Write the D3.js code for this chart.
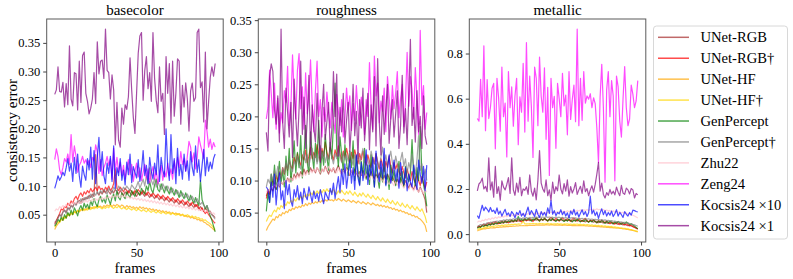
<!DOCTYPE html>
<html>
<head>
<meta charset="utf-8">
<script src="https://cdn.jsdelivr.net/npm/d3@7"></script>
<style>
  body { margin: 0; background: #fff; }
  svg { font-family: "Liberation Serif", "DejaVu Serif", serif; }
  .tick text { font-size: 12.5px; fill: #000; }
</style>
</head>
<body>
<svg class="graph" width="793" height="279"></svg>
<script>
// method names, colours of the lines
var methods = ["UNet-RGB", "UNet-RGB\u2020", "UNet-HF", "UNet-HF\u2020", "GenPercept", "GenPercept\u2020", "Zhu22", "Zeng24", "Kocsis24 \u00d710", "Kocsis24 \u00d71"];
var colors = ["#a52a2a", "#ff0000", "#ffa500", "#ffd700", "#008000", "#808080", "#ffc0cb", "#ff00ff", "#0000ff", "#800080"];
var panelTitles = ["basecolor", "roughness", "metallic"];
var xTicks = [0, 50, 100];
var yTicksBase = [0.05, 0.10, 0.15, 0.20, 0.25, 0.30, 0.35];
var yTicksRough = [0.05, 0.10, 0.15, 0.20, 0.25, 0.30, 0.35];
var yTicksMetal = [0.0, 0.2, 0.4, 0.6, 0.8];

// ---- basecolor, frames 0..98 ----
var bcUnetRGB = [0.036,0.040,0.045,0.050,0.048,0.055,0.058,0.054,0.062,0.060,0.066,0.064,0.070,0.068,0.072,0.075,0.070,0.078,0.076,0.080,0.078,0.084,0.080,0.086,0.082,0.155,0.088,0.084,0.090,0.086,0.092,0.088,0.094,0.090,0.086,0.092,0.088,0.094,0.090,0.086,0.092,0.088,0.084,0.090,0.086,0.092,0.088,0.084,0.090,0.086,0.082,0.088,0.084,0.090,0.086,0.082,0.088,0.084,0.080,0.086,0.082,0.078,0.084,0.080,0.076,0.082,0.078,0.074,0.080,0.076,0.072,0.078,0.074,0.070,0.076,0.072,0.068,0.074,0.070,0.066,0.072,0.068,0.064,0.070,0.066,0.062,0.068,0.064,0.060,0.064,0.060,0.056,0.062,0.058,0.054,0.056,0.050,0.048,0.045];
var bcUnetRGBd = [0.034,0.038,0.046,0.052,0.060,0.058,0.064,0.062,0.070,0.066,0.074,0.070,0.078,0.082,0.076,0.084,0.088,0.082,0.090,0.086,0.092,0.088,0.096,0.090,0.094,0.098,0.092,0.100,0.094,0.096,0.090,0.098,0.094,0.100,0.092,0.096,0.104,0.130,0.096,0.092,0.098,0.094,0.090,0.096,0.092,0.088,0.094,0.090,0.086,0.092,0.088,0.094,0.090,0.086,0.092,0.088,0.084,0.090,0.086,0.082,0.088,0.084,0.080,0.086,0.082,0.078,0.084,0.080,0.076,0.082,0.078,0.074,0.080,0.076,0.072,0.078,0.074,0.070,0.076,0.072,0.068,0.074,0.070,0.066,0.072,0.068,0.064,0.068,0.062,0.058,0.062,0.056,0.052,0.056,0.050,0.046,0.042,0.038,0.035];
var bcUnetHF = [0.024,0.030,0.034,0.038,0.042,0.040,0.046,0.044,0.050,0.048,0.052,0.050,0.055,0.053,0.057,0.055,0.059,0.057,0.060,0.058,0.062,0.060,0.063,0.061,0.064,0.062,0.066,0.063,0.065,0.062,0.066,0.064,0.067,0.065,0.068,0.064,0.067,0.065,0.068,0.066,0.064,0.067,0.065,0.062,0.066,0.063,0.065,0.062,0.064,0.061,0.063,0.060,0.064,0.061,0.063,0.060,0.062,0.059,0.061,0.058,0.060,0.057,0.059,0.056,0.058,0.055,0.057,0.054,0.056,0.053,0.055,0.052,0.054,0.051,0.053,0.050,0.052,0.049,0.050,0.047,0.049,0.046,0.047,0.044,0.046,0.043,0.044,0.041,0.042,0.039,0.040,0.037,0.036,0.033,0.032,0.029,0.027,0.024,0.022];
var bcUnetHFd = [0.028,0.034,0.038,0.036,0.042,0.046,0.043,0.048,0.052,0.049,0.054,0.051,0.056,0.053,0.058,0.055,0.059,0.061,0.057,0.060,0.058,0.062,0.059,0.063,0.060,0.064,0.061,0.065,0.062,0.060,0.063,0.061,0.064,0.062,0.066,0.063,0.061,0.064,0.062,0.065,0.062,0.060,0.063,0.061,0.059,0.062,0.060,0.058,0.061,0.059,0.057,0.060,0.058,0.056,0.059,0.057,0.055,0.058,0.056,0.054,0.057,0.055,0.053,0.056,0.054,0.052,0.055,0.053,0.051,0.054,0.052,0.050,0.053,0.051,0.049,0.052,0.050,0.048,0.051,0.049,0.047,0.050,0.048,0.046,0.048,0.045,0.047,0.044,0.045,0.042,0.043,0.040,0.041,0.038,0.036,0.034,0.031,0.028,0.024];
var bcGenPercept = [0.030,0.034,0.042,0.038,0.046,0.040,0.050,0.044,0.054,0.048,0.058,0.050,0.062,0.056,0.048,0.060,0.066,0.058,0.070,0.062,0.068,0.060,0.074,0.066,0.078,0.070,0.064,0.076,0.082,0.072,0.078,0.070,0.084,0.076,0.068,0.080,0.086,0.074,0.092,0.080,0.076,0.088,0.082,0.078,0.090,0.084,0.080,0.092,0.086,0.082,0.094,0.088,0.084,0.096,0.090,0.086,0.100,0.092,0.108,0.094,0.088,0.102,0.112,0.094,0.090,0.104,0.096,0.088,0.100,0.092,0.086,0.098,0.090,0.084,0.094,0.088,0.080,0.092,0.084,0.078,0.088,0.080,0.074,0.084,0.076,0.070,0.080,0.072,0.066,0.110,0.076,0.068,0.060,0.066,0.056,0.048,0.040,0.030,0.020];
var bcGenPerceptd = [0.032,0.038,0.044,0.050,0.046,0.054,0.058,0.052,0.062,0.058,0.066,0.062,0.070,0.066,0.074,0.070,0.078,0.072,0.080,0.076,0.082,0.078,0.086,0.080,0.088,0.084,0.090,0.086,0.092,0.088,0.094,0.090,0.086,0.096,0.092,0.088,0.098,0.094,0.090,0.100,0.096,0.092,0.098,0.094,0.100,0.096,0.092,0.102,0.098,0.094,0.100,0.108,0.096,0.104,0.112,0.100,0.118,0.104,0.132,0.110,0.102,0.114,0.098,0.108,0.100,0.094,0.104,0.098,0.092,0.100,0.094,0.088,0.096,0.090,0.086,0.092,0.086,0.082,0.088,0.084,0.080,0.086,0.080,0.076,0.082,0.076,0.072,0.078,0.072,0.068,0.072,0.066,0.062,0.066,0.058,0.054,0.050,0.046,0.042];
var bcZhu22 = [0.056,0.060,0.058,0.064,0.062,0.066,0.063,0.068,0.065,0.070,0.067,0.071,0.068,0.072,0.069,0.073,0.070,0.074,0.071,0.075,0.072,0.076,0.073,0.077,0.074,0.078,0.075,0.079,0.076,0.080,0.077,0.081,0.078,0.082,0.079,0.083,0.080,0.084,0.081,0.083,0.080,0.084,0.081,0.083,0.079,0.082,0.078,0.081,0.077,0.080,0.076,0.079,0.075,0.078,0.074,0.077,0.073,0.076,0.072,0.075,0.071,0.074,0.070,0.073,0.069,0.072,0.068,0.071,0.067,0.070,0.066,0.069,0.065,0.068,0.064,0.067,0.063,0.066,0.062,0.065,0.061,0.064,0.060,0.063,0.059,0.062,0.058,0.061,0.057,0.060,0.056,0.059,0.055,0.057,0.053,0.055,0.052,0.053,0.050];
var bcZeng24 = [0.146,0.165,0.152,0.128,0.120,0.132,0.148,0.142,0.156,0.138,0.190,0.142,0.170,0.152,0.124,0.136,0.142,0.152,0.140,0.146,0.138,0.145,0.132,0.150,0.144,0.172,0.160,0.122,0.146,0.118,0.132,0.140,0.152,0.136,0.148,0.112,0.166,0.128,0.150,0.124,0.142,0.118,0.136,0.112,0.130,0.146,0.120,0.138,0.108,0.126,0.140,0.116,0.132,0.110,0.124,0.138,0.114,0.130,0.106,0.122,0.134,0.112,0.128,0.104,0.120,0.136,0.110,0.126,0.116,0.140,0.118,0.130,0.112,0.144,0.124,0.150,0.132,0.160,0.138,0.148,0.126,0.152,0.178,0.168,0.142,0.158,0.130,0.150,0.186,0.172,0.160,0.148,0.215,0.196,0.168,0.182,0.164,0.176,0.168];
var bcKocsis10 = [0.096,0.106,0.118,0.110,0.116,0.124,0.118,0.132,0.148,0.126,0.140,0.108,0.150,0.122,0.156,0.118,0.098,0.135,0.120,0.110,0.148,0.128,0.168,0.112,0.162,0.104,0.150,0.185,0.126,0.160,0.118,0.104,0.140,0.122,0.152,0.108,0.170,0.096,0.132,0.118,0.148,0.110,0.128,0.102,0.142,0.120,0.156,0.106,0.134,0.124,0.114,0.146,0.108,0.128,0.162,0.118,0.136,0.104,0.150,0.126,0.112,0.140,0.120,0.172,0.108,0.150,0.128,0.116,0.200,0.134,0.110,0.190,0.122,0.148,0.104,0.166,0.118,0.138,0.112,0.156,0.126,0.144,0.110,0.160,0.132,0.118,0.170,0.124,0.146,0.108,0.136,0.164,0.118,0.150,0.126,0.142,0.130,0.148,0.156];
var bcKocsis1 = [0.260,0.268,0.308,0.265,0.264,0.281,0.238,0.279,0.242,0.345,0.252,0.240,0.298,0.296,0.233,0.318,0.246,0.328,0.334,0.262,0.248,0.226,0.236,0.252,0.298,0.244,0.352,0.296,0.318,0.320,0.288,0.374,0.302,0.298,0.252,0.294,0.268,0.172,0.246,0.180,0.168,0.236,0.208,0.242,0.234,0.256,0.324,0.268,0.220,0.192,0.262,0.332,0.362,0.368,0.250,0.302,0.326,0.270,0.298,0.248,0.368,0.288,0.250,0.228,0.308,0.248,0.262,0.190,0.326,0.262,0.314,0.210,0.318,0.222,0.262,0.322,0.318,0.208,0.276,0.238,0.280,0.252,0.196,0.266,0.280,0.248,0.254,0.368,0.374,0.272,0.282,0.212,0.334,0.200,0.248,0.290,0.308,0.292,0.314];

// ---- roughness ----
var rUnetRGB = [0.076,0.082,0.078,0.088,0.084,0.092,0.086,0.096,0.090,0.098,0.094,0.100,0.096,0.104,0.098,0.106,0.100,0.110,0.104,0.112,0.106,0.114,0.108,0.118,0.110,0.116,0.112,0.120,0.114,0.118,0.112,0.120,0.116,0.110,0.118,0.114,0.122,0.116,0.110,0.118,0.114,0.120,0.112,0.118,0.124,0.116,0.110,0.118,0.112,0.120,0.114,0.108,0.116,0.110,0.118,0.112,0.106,0.114,0.108,0.116,0.110,0.104,0.112,0.106,0.114,0.108,0.102,0.110,0.104,0.112,0.106,0.100,0.108,0.102,0.110,0.104,0.098,0.106,0.100,0.094,0.102,0.096,0.104,0.098,0.092,0.100,0.094,0.088,0.096,0.090,0.086,0.094,0.088,0.082,0.090,0.084,0.078,0.070,0.050];
var rUnetRGBd = [0.072,0.086,0.080,0.094,0.102,0.090,0.108,0.098,0.114,0.104,0.120,0.110,0.126,0.116,0.132,0.122,0.118,0.136,0.126,0.142,0.130,0.124,0.140,0.132,0.148,0.128,0.138,0.152,0.134,0.144,0.136,0.156,0.142,0.130,0.150,0.138,0.160,0.144,0.134,0.152,0.140,0.132,0.148,0.138,0.154,0.142,0.130,0.146,0.136,0.150,0.138,0.128,0.144,0.134,0.148,0.136,0.126,0.142,0.132,0.146,0.134,0.124,0.140,0.130,0.120,0.136,0.126,0.142,0.128,0.118,0.134,0.124,0.114,0.130,0.120,0.138,0.122,0.112,0.128,0.118,0.126,0.114,0.108,0.122,0.112,0.104,0.118,0.108,0.100,0.114,0.104,0.096,0.110,0.100,0.092,0.106,0.096,0.088,0.098];
var rUnetHF = [0.022,0.028,0.032,0.036,0.040,0.038,0.044,0.042,0.047,0.045,0.050,0.048,0.052,0.050,0.055,0.053,0.057,0.055,0.059,0.057,0.060,0.058,0.062,0.060,0.064,0.061,0.065,0.063,0.066,0.064,0.067,0.065,0.068,0.066,0.069,0.067,0.070,0.068,0.071,0.069,0.070,0.068,0.071,0.069,0.072,0.070,0.068,0.071,0.069,0.067,0.070,0.068,0.066,0.069,0.067,0.065,0.068,0.066,0.064,0.067,0.065,0.063,0.066,0.064,0.062,0.065,0.063,0.061,0.063,0.060,0.062,0.059,0.061,0.058,0.060,0.057,0.058,0.055,0.057,0.054,0.055,0.052,0.054,0.051,0.052,0.049,0.050,0.047,0.048,0.045,0.046,0.043,0.044,0.041,0.040,0.037,0.034,0.030,0.020];
var rUnetHFd = [0.036,0.042,0.046,0.044,0.050,0.054,0.051,0.058,0.055,0.061,0.058,0.064,0.061,0.067,0.064,0.069,0.066,0.071,0.068,0.073,0.070,0.075,0.072,0.077,0.074,0.079,0.076,0.081,0.078,0.083,0.079,0.084,0.080,0.085,0.081,0.086,0.082,0.087,0.083,0.085,0.081,0.086,0.082,0.079,0.084,0.080,0.085,0.081,0.078,0.083,0.079,0.084,0.080,0.077,0.082,0.078,0.075,0.080,0.076,0.081,0.077,0.074,0.079,0.075,0.072,0.077,0.073,0.070,0.075,0.071,0.068,0.073,0.069,0.066,0.071,0.067,0.064,0.069,0.065,0.062,0.067,0.063,0.060,0.065,0.061,0.058,0.063,0.059,0.056,0.061,0.057,0.054,0.059,0.055,0.052,0.056,0.050,0.044,0.034];
var rGenPercept = [0.052,0.080,0.066,0.110,0.092,0.124,0.086,0.104,0.130,0.096,0.116,0.090,0.138,0.108,0.150,0.098,0.126,0.162,0.112,0.144,0.120,0.170,0.104,0.138,0.186,0.128,0.110,0.176,0.140,0.118,0.158,0.130,0.194,0.112,0.146,0.124,0.172,0.138,0.116,0.160,0.134,0.188,0.252,0.150,0.122,0.168,0.140,0.114,0.156,0.128,0.108,0.146,0.120,0.162,0.100,0.138,0.116,0.094,0.130,0.108,0.150,0.102,0.124,0.094,0.140,0.112,0.090,0.126,0.104,0.088,0.120,0.098,0.132,0.094,0.110,0.086,0.124,0.100,0.116,0.092,0.106,0.130,0.096,0.114,0.090,0.122,0.104,0.098,0.112,0.164,0.106,0.092,0.120,0.100,0.184,0.112,0.094,0.080,0.060];
var rGenPerceptd = [0.090,0.102,0.096,0.110,0.100,0.116,0.106,0.122,0.112,0.104,0.120,0.112,0.128,0.118,0.134,0.122,0.114,0.130,0.124,0.138,0.126,0.118,0.134,0.146,0.128,0.140,0.122,0.136,0.150,0.130,0.142,0.126,0.138,0.154,0.134,0.146,0.128,0.140,0.132,0.148,0.136,0.126,0.142,0.134,0.150,0.138,0.128,0.144,0.132,0.140,0.130,0.146,0.134,0.124,0.140,0.130,0.144,0.126,0.138,0.150,0.128,0.140,0.132,0.122,0.146,0.134,0.126,0.142,0.130,0.120,0.136,0.152,0.128,0.140,0.124,0.134,0.146,0.128,0.118,0.138,0.126,0.116,0.132,0.144,0.122,0.134,0.112,0.128,0.118,0.140,0.124,0.110,0.132,0.170,0.116,0.126,0.104,0.118,0.100];
var rZhu22 = [0.082,0.086,0.084,0.090,0.088,0.094,0.090,0.096,0.092,0.098,0.094,0.100,0.096,0.102,0.098,0.104,0.100,0.106,0.102,0.108,0.104,0.110,0.106,0.112,0.108,0.114,0.110,0.116,0.112,0.118,0.114,0.120,0.116,0.112,0.118,0.114,0.120,0.116,0.122,0.118,0.114,0.120,0.116,0.112,0.118,0.114,0.110,0.116,0.112,0.118,0.114,0.110,0.116,0.112,0.108,0.114,0.110,0.106,0.112,0.108,0.104,0.110,0.106,0.102,0.108,0.104,0.100,0.106,0.102,0.098,0.104,0.100,0.096,0.102,0.098,0.094,0.100,0.096,0.092,0.098,0.094,0.090,0.096,0.092,0.088,0.094,0.090,0.086,0.092,0.088,0.084,0.090,0.086,0.082,0.088,0.084,0.080,0.086,0.082];
var rZeng24 = [0.196,0.214,0.272,0.236,0.198,0.252,0.180,0.228,0.174,0.206,0.190,0.240,0.222,0.278,0.186,0.214,0.296,0.234,0.196,0.272,0.298,0.212,0.246,0.180,0.268,0.204,0.232,0.288,0.220,0.176,0.240,0.286,0.200,0.226,0.168,0.214,0.192,0.238,0.206,0.182,0.222,0.196,0.174,0.234,0.208,0.186,0.226,0.168,0.198,0.244,0.210,0.232,0.178,0.220,0.194,0.248,0.206,0.186,0.230,0.214,0.172,0.226,0.200,0.284,0.216,0.180,0.294,0.232,0.252,0.190,0.224,0.208,0.244,0.176,0.262,0.230,0.196,0.248,0.212,0.236,0.270,0.198,0.228,0.250,0.184,0.222,0.300,0.216,0.262,0.242,0.196,0.276,0.228,0.172,0.334,0.218,0.248,0.180,0.206];
var rKocsis10 = [0.090,0.086,0.066,0.098,0.074,0.110,0.062,0.092,0.112,0.070,0.084,0.056,0.100,0.078,0.094,0.068,0.060,0.086,0.074,0.092,0.070,0.082,0.064,0.088,0.076,0.070,0.090,0.078,0.066,0.084,0.072,0.080,0.068,0.086,0.074,0.064,0.082,0.076,0.070,0.088,0.078,0.096,0.072,0.090,0.106,0.082,0.118,0.094,0.126,0.088,0.110,0.132,0.096,0.120,0.086,0.140,0.104,0.092,0.128,0.100,0.116,0.148,0.094,0.124,0.108,0.136,0.090,0.146,0.112,0.098,0.130,0.104,0.150,0.092,0.120,0.140,0.096,0.112,0.132,0.100,0.118,0.088,0.128,0.106,0.094,0.120,0.084,0.110,0.098,0.090,0.124,0.102,0.086,0.132,0.110,0.096,0.122,0.084,0.124];
var rKocsis1 = [0.175,0.146,0.262,0.282,0.270,0.210,0.188,0.232,0.160,0.336,0.190,0.150,0.244,0.206,0.168,0.222,0.136,0.258,0.198,0.154,0.212,0.286,0.172,0.230,0.150,0.196,0.264,0.140,0.218,0.182,0.160,0.236,0.178,0.128,0.208,0.250,0.164,0.192,0.222,0.146,0.180,0.270,0.200,0.266,0.138,0.214,0.176,0.236,0.158,0.194,0.222,0.146,0.188,0.250,0.170,0.208,0.134,0.226,0.182,0.244,0.162,0.200,0.236,0.148,0.218,0.176,0.262,0.154,0.290,0.190,0.140,0.232,0.172,0.210,0.250,0.158,0.196,0.226,0.168,0.204,0.240,0.150,0.186,0.264,0.174,0.212,0.156,0.230,0.320,0.186,0.214,0.160,0.240,0.176,0.200,0.150,0.232,0.170,0.156];

// ---- metallic ----
var mUnetRGB = [0.030,0.034,0.032,0.038,0.036,0.040,0.038,0.043,0.041,0.045,0.043,0.047,0.045,0.049,0.047,0.051,0.049,0.053,0.051,0.055,0.053,0.056,0.054,0.058,0.056,0.059,0.057,0.061,0.058,0.062,0.059,0.063,0.060,0.064,0.061,0.065,0.062,0.066,0.063,0.065,0.062,0.066,0.063,0.060,0.064,0.061,0.065,0.062,0.059,0.063,0.060,0.064,0.061,0.058,0.062,0.059,0.063,0.060,0.057,0.061,0.058,0.062,0.059,0.056,0.060,0.057,0.054,0.058,0.055,0.059,0.056,0.053,0.057,0.054,0.051,0.055,0.052,0.049,0.053,0.050,0.047,0.051,0.048,0.045,0.049,0.046,0.043,0.047,0.044,0.041,0.044,0.040,0.037,0.040,0.036,0.033,0.030,0.027,0.024];
var mUnetRGBd = [0.028,0.036,0.032,0.040,0.044,0.038,0.046,0.050,0.044,0.052,0.048,0.056,0.050,0.046,0.054,0.058,0.052,0.060,0.056,0.050,0.058,0.062,0.055,0.064,0.058,0.066,0.060,0.054,0.062,0.068,0.060,0.064,0.070,0.062,0.056,0.066,0.072,0.064,0.058,0.068,0.062,0.070,0.064,0.058,0.068,0.074,0.066,0.060,0.070,0.064,0.058,0.066,0.072,0.064,0.060,0.068,0.062,0.056,0.066,0.072,0.064,0.058,0.068,0.062,0.056,0.064,0.070,0.060,0.054,0.062,0.058,0.064,0.056,0.050,0.060,0.054,0.062,0.056,0.050,0.058,0.052,0.046,0.054,0.050,0.044,0.052,0.048,0.042,0.050,0.046,0.040,0.046,0.042,0.036,0.040,0.034,0.030,0.026,0.022];
var mUnetHF = [0.014,0.018,0.020,0.022,0.024,0.023,0.026,0.025,0.028,0.027,0.029,0.028,0.031,0.030,0.032,0.031,0.033,0.032,0.034,0.033,0.035,0.034,0.036,0.035,0.037,0.036,0.038,0.037,0.038,0.037,0.039,0.038,0.040,0.039,0.040,0.039,0.041,0.040,0.041,0.040,0.041,0.040,0.042,0.041,0.040,0.042,0.041,0.040,0.041,0.040,0.041,0.040,0.039,0.041,0.040,0.039,0.040,0.039,0.038,0.039,0.038,0.037,0.039,0.038,0.037,0.038,0.036,0.037,0.035,0.036,0.035,0.034,0.035,0.033,0.034,0.032,0.033,0.031,0.032,0.030,0.031,0.029,0.030,0.028,0.028,0.026,0.027,0.025,0.025,0.023,0.023,0.021,0.021,0.019,0.018,0.016,0.014,0.012,0.010];
var mUnetHFd = [0.020,0.024,0.026,0.025,0.029,0.031,0.030,0.033,0.032,0.035,0.034,0.037,0.036,0.038,0.037,0.040,0.038,0.041,0.040,0.042,0.041,0.043,0.042,0.044,0.043,0.045,0.044,0.046,0.058,0.045,0.046,0.045,0.047,0.046,0.048,0.046,0.047,0.045,0.048,0.046,0.047,0.045,0.046,0.048,0.045,0.047,0.044,0.046,0.045,0.047,0.044,0.046,0.043,0.045,0.044,0.046,0.043,0.045,0.042,0.044,0.043,0.045,0.042,0.044,0.041,0.043,0.040,0.042,0.041,0.039,0.041,0.038,0.040,0.037,0.039,0.036,0.038,0.035,0.037,0.034,0.035,0.033,0.034,0.031,0.032,0.030,0.030,0.028,0.028,0.026,0.026,0.024,0.023,0.021,0.020,0.018,0.016,0.014,0.012];
var mGenPercept = [0.026,0.032,0.030,0.038,0.034,0.042,0.036,0.044,0.040,0.048,0.042,0.050,0.046,0.054,0.048,0.056,0.050,0.058,0.052,0.060,0.054,0.062,0.056,0.064,0.058,0.078,0.060,0.066,0.060,0.068,0.062,0.070,0.064,0.058,0.068,0.062,0.072,0.064,0.058,0.068,0.062,0.070,0.064,0.058,0.066,0.060,0.070,0.062,0.056,0.066,0.060,0.068,0.062,0.056,0.064,0.058,0.066,0.060,0.054,0.064,0.058,0.066,0.060,0.054,0.062,0.056,0.064,0.058,0.052,0.060,0.054,0.062,0.056,0.050,0.058,0.052,0.060,0.054,0.048,0.056,0.050,0.058,0.052,0.046,0.054,0.048,0.056,0.050,0.044,0.052,0.046,0.054,0.048,0.042,0.046,0.040,0.036,0.030,0.024];
var mGenPerceptd = [0.034,0.038,0.042,0.040,0.046,0.044,0.050,0.048,0.053,0.051,0.056,0.054,0.058,0.056,0.060,0.058,0.063,0.060,0.065,0.062,0.066,0.064,0.068,0.065,0.070,0.067,0.071,0.068,0.072,0.069,0.073,0.070,0.074,0.071,0.075,0.072,0.076,0.073,0.077,0.074,0.076,0.073,0.077,0.074,0.076,0.073,0.075,0.072,0.076,0.073,0.075,0.072,0.074,0.071,0.073,0.070,0.074,0.071,0.073,0.070,0.072,0.069,0.071,0.068,0.070,0.067,0.069,0.066,0.068,0.065,0.067,0.064,0.066,0.063,0.065,0.062,0.064,0.061,0.063,0.060,0.061,0.058,0.060,0.057,0.058,0.055,0.056,0.053,0.054,0.051,0.052,0.049,0.050,0.047,0.046,0.043,0.041,0.038,0.035];
var mZhu22 = [0.052,0.058,0.055,0.062,0.059,0.066,0.062,0.069,0.065,0.072,0.068,0.075,0.070,0.077,0.073,0.079,0.075,0.081,0.077,0.083,0.079,0.085,0.081,0.086,0.082,0.088,0.084,0.089,0.085,0.090,0.086,0.091,0.087,0.092,0.088,0.093,0.089,0.094,0.090,0.095,0.091,0.096,0.092,0.097,0.093,0.098,0.094,0.099,0.095,0.100,0.096,0.101,0.097,0.102,0.098,0.103,0.099,0.104,0.100,0.105,0.101,0.106,0.102,0.107,0.103,0.108,0.104,0.109,0.105,0.110,0.106,0.111,0.107,0.112,0.108,0.110,0.106,0.109,0.104,0.107,0.102,0.105,0.100,0.103,0.098,0.101,0.096,0.099,0.094,0.097,0.092,0.094,0.089,0.091,0.086,0.084,0.080,0.076,0.072];
var mZeng24 = [0.512,0.500,0.686,0.520,0.834,0.458,0.684,0.512,0.560,0.646,0.668,0.378,0.690,0.604,0.456,0.740,0.520,0.580,0.342,0.720,0.560,0.652,0.478,0.612,0.690,0.396,0.608,0.540,0.756,0.452,0.848,0.500,0.700,0.566,0.340,0.740,0.690,0.480,0.784,0.612,0.540,0.736,0.420,0.650,0.260,0.690,0.560,0.610,0.380,0.668,0.600,0.520,0.712,0.568,0.616,0.440,0.720,0.508,0.596,0.660,0.498,0.908,0.480,0.690,0.504,0.720,0.580,0.612,0.598,0.622,0.560,0.604,0.578,0.470,0.316,0.608,0.752,0.560,0.230,0.640,0.720,0.520,0.680,0.612,0.236,0.700,0.652,0.500,0.430,0.600,0.742,0.560,0.480,0.510,0.660,0.620,0.560,0.590,0.680];
var mKocsis10 = [0.082,0.070,0.100,0.128,0.104,0.120,0.110,0.098,0.118,0.100,0.106,0.092,0.116,0.088,0.102,0.080,0.096,0.110,0.084,0.094,0.078,0.100,0.090,0.072,0.096,0.086,0.104,0.080,0.092,0.076,0.098,0.120,0.086,0.104,0.092,0.078,0.110,0.088,0.074,0.100,0.084,0.096,0.080,0.116,0.092,0.150,0.088,0.104,0.082,0.096,0.090,0.108,0.086,0.100,0.080,0.094,0.072,0.102,0.088,0.110,0.084,0.098,0.076,0.092,0.108,0.086,0.100,0.078,0.096,0.168,0.090,0.106,0.082,0.098,0.070,0.094,0.112,0.086,0.104,0.080,0.096,0.084,0.102,0.078,0.090,0.108,0.080,0.096,0.086,0.074,0.100,0.088,0.080,0.096,0.084,0.106,0.104,0.100,0.098];
var mKocsis1 = [0.192,0.222,0.230,0.248,0.200,0.212,0.188,0.338,0.196,0.232,0.164,0.300,0.180,0.210,0.150,0.236,0.208,0.196,0.220,0.250,0.180,0.338,0.196,0.172,0.226,0.186,0.252,0.170,0.200,0.194,0.210,0.176,0.262,0.190,0.168,0.204,0.152,0.240,0.370,0.226,0.200,0.186,0.240,0.170,0.196,0.150,0.230,0.180,0.210,0.192,0.262,0.200,0.178,0.224,0.190,0.240,0.168,0.210,0.182,0.200,0.228,0.176,0.196,0.212,0.180,0.236,0.188,0.202,0.170,0.196,0.214,0.186,0.220,0.266,0.318,0.190,0.226,0.176,0.160,0.184,0.172,0.198,0.178,0.190,0.174,0.208,0.186,0.170,0.216,0.182,0.176,0.204,0.196,0.178,0.202,0.196,0.160,0.180,0.174];

var panels = [
  { title: panelTitles[0], ticks: yTicksBase, fmt: ".2f",
    series: [bcUnetRGB, bcUnetRGBd, bcUnetHF, bcUnetHFd, bcGenPercept, bcGenPerceptd, bcZhu22, bcZeng24, bcKocsis10, bcKocsis1] },
  { title: panelTitles[1], ticks: yTicksRough, fmt: ".2f",
    series: [rUnetRGB, rUnetRGBd, rUnetHF, rUnetHFd, rGenPercept, rGenPerceptd, rZhu22, rZeng24, rKocsis10, rKocsis1] },
  { title: panelTitles[2], ticks: yTicksMetal, fmt: ".1f",
    series: [mUnetRGB, mUnetRGBd, mUnetHF, mUnetHFd, mGenPercept, mGenPerceptd, mZhu22, mZeng24, mKocsis10, mKocsis1] }
];

var svg = d3.select("svg.graph");
var panelLeft = [46.7, 258.3, 469.3],
    panelWidth = 176.5,
    plotTop = 19, plotBottom = 242;

panels.forEach(function (p, pi) {
  var g = svg.append("g").attr("transform", "translate(" + panelLeft[pi] + ",0)");

  var all = [].concat.apply([], p.series);
  var n = p.series[0].length;
  var lo = d3.min(all), hi = d3.max(all), pad = (hi - lo) * 0.05;
  var xPad = (n - 1) * 0.05;

  var x = d3.scaleLinear().domain([-xPad, n - 1 + xPad]).range([0, panelWidth]);
  var y = d3.scaleLinear().domain([lo - pad, hi + pad]).range([plotBottom, plotTop]);

  var line = d3.line()
    .x(function (d, i) { return x(i); })
    .y(function (d) { return y(d); });

  g.selectAll(".series")
    .data(p.series)
    .enter().append("path")
    .attr("class", "series")
    .attr("d", line)
    .attr("fill", "none")
    .attr("stroke", function (d, i) { return colors[i]; })
    .attr("stroke-opacity", 0.7)
    .attr("stroke-width", 1.2)
    .attr("stroke-linejoin", "round");

  // frame
  g.append("rect")
    .attr("x", 0).attr("y", plotTop)
    .attr("width", panelWidth).attr("height", plotBottom - plotTop)
    .attr("fill", "none").attr("stroke", "#5a5a5a").attr("stroke-width", 1);

  var xAxis = g.append("g")
    .attr("transform", "translate(0," + plotBottom + ")")
    .call(d3.axisBottom(x).tickValues(xTicks).tickSize(3.5).tickPadding(2.5));
  var yAxis = g.append("g")
    .call(d3.axisLeft(y).tickValues(p.ticks).tickFormat(d3.format(p.fmt)).tickSize(3.5).tickPadding(3));
  [xAxis, yAxis].forEach(function (a) {
    a.select(".domain").remove();
    a.selectAll(".tick line").attr("stroke", "#444");
    a.attr("font-family", null).attr("font-size", null);
  });

  g.append("text")
    .attr("x", panelWidth / 2).attr("y", 14.5)
    .attr("text-anchor", "middle")
    .style("font-size", "15px")
    .text(p.title);

  g.append("text")
    .attr("x", panelWidth / 2).attr("y", 272.5)
    .attr("text-anchor", "middle")
    .style("font-size", "15px")
    .text("frames");
});

svg.append("text")
  .attr("transform", "translate(17," + ((plotTop + plotBottom) / 2) + ") rotate(-90)")
  .attr("text-anchor", "middle")
  .style("font-size", "15px")
  .text("consistency error");

// legend
var legend = svg.append("g").attr("transform", "translate(653.5,26)");
legend.append("rect")
  .attr("width", 134).attr("height", 213).attr("rx", 3)
  .attr("fill", "#fff").attr("stroke", "#d8d8d8");
var item = legend.selectAll(".item")
  .data(methods)
  .enter().append("g")
  .attr("transform", function (d, i) { return "translate(0," + (11.3 + i * 20.93) + ")"; });
item.append("line")
  .attr("x1", 4.5).attr("x2", 35.5)
  .attr("stroke", function (d, i) { return colors[i]; })
  .attr("stroke-opacity", 0.7).attr("stroke-width", 1.5);
item.append("text")
  .attr("x", 47).attr("dy", "0.35em")
  .style("font-size", "14.6px")
  .text(function (d) { return d; });
</script>
</body>
</html>
